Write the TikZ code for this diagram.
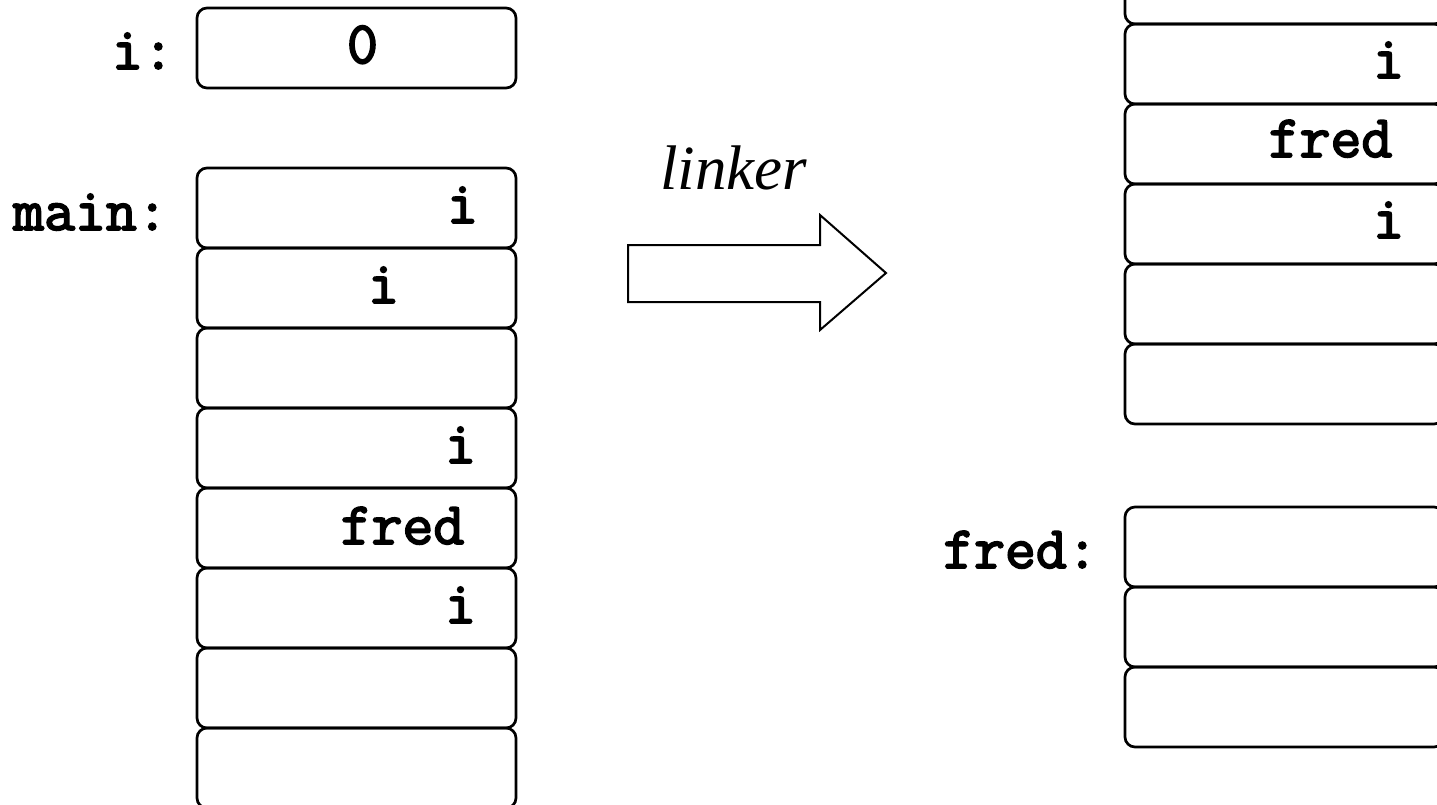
\documentclass[tikz,border=0pt]{standalone}
\usepackage{fontspec}
\setmainfont{Liberation Serif}
\newfontfamily\codefont{Latin Modern Mono}[FakeBold=3]
\usetikzlibrary{calc}
\begin{document}
\begin{tikzpicture}[x=1pt,y=-1pt,
  cell/.style={draw, line width=2.7pt, rounded corners=10pt, minimum width=319pt, minimum height=80pt, inner sep=0pt, outer sep=0pt},
  code/.style={inner sep=0pt, font=\fontsize{60}{70}\selectfont\codefont},
  ital/.style={inner sep=0pt, font=\fontsize{63}{72}\selectfont\itshape}]
\clip (0,0) rectangle (1437,804);
% i: variable
\node[cell] (ibox) at (356.5,48) {};
\node[code, anchor=base] (izero) at ($(ibox.center)+(6,15)$) {0};
\node[code, anchor=base east] (ilab) at (174,69) {i:};
% main stack
\foreach \k/\y in {1/208,2/288,3/368,4/448,5/528,6/608,7/688,8/768}
  \node[cell] (m\k) at (356.5,\y) {};
\node[code, anchor=base west] (mlab) at (13,230) {main:};
\node[code, anchor=base] (m1t) at ($(m1.center)+(106,15)$) {i};
\node[code, anchor=base] (m2t) at ($(m2.center)+(27,15)$) {i};
\node[code, anchor=base] (m4t) at ($(m4.center)+(104,15)$) {i};
\node[code, anchor=base] (m5t) at ($(m5.center)+(46,16)$) {fred};
\node[code, anchor=base] (m6t) at ($(m6.center)+(104,15)$) {i};
% linker arrow
\node[ital, anchor=base west] (lk) at (660,189) {linker};
\draw[line width=2pt, line join=miter] (628,245) -- (820,245) -- (820,215) -- (886,273) -- (820,330) -- (820,302) -- (628,302) -- cycle;
% linked main stack (right)
\foreach \k/\y in {0/-16,1/64,2/144,3/224,4/304,5/384}
  \node[cell] (r\k) at (1284.5,\y) {};
\node[code, anchor=base] (r1t) at ($(r1.center)+(104,14)$) {i};
\node[code, anchor=base] (r2t) at ($(r2.center)+(46,13)$) {fred};
\node[code, anchor=base] (r3t) at ($(r3.center)+(104,14)$) {i};
% fred stack
\foreach \k/\y in {1/547,2/627,3/707}
  \node[cell] (f\k) at (1284.5,\y) {};
\node[code, anchor=base west] (flab) at (943,568) {fred:};
\end{tikzpicture}
\end{document}
